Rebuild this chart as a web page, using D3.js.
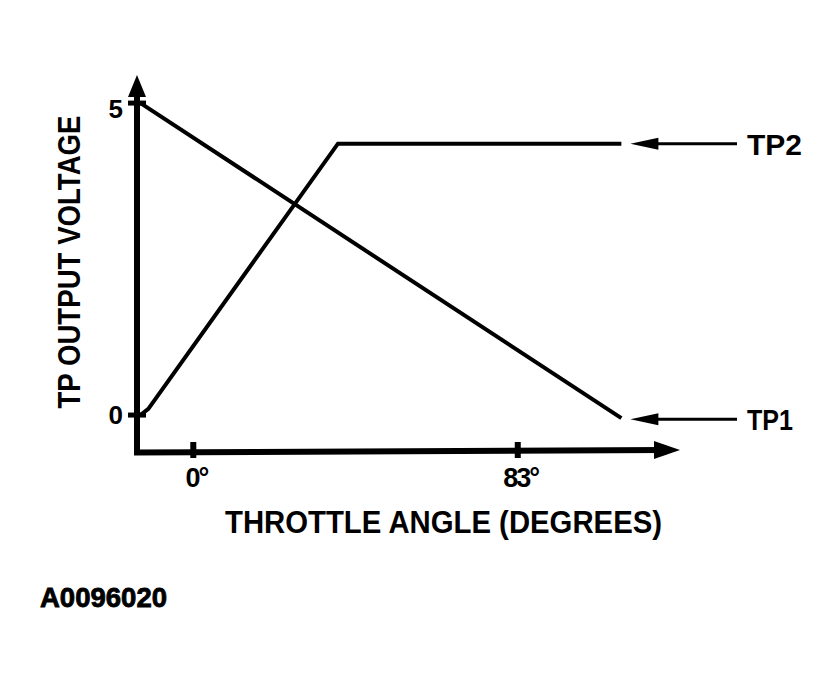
<!DOCTYPE html>
<html>
<head>
<meta charset="utf-8">
<script src="https://cdn.jsdelivr.net/npm/d3@7"></script>
<style>
  body { margin: 0; background: #fff; }
  text { font-family: "Liberation Sans", Arial, sans-serif; font-weight: bold; fill: #000; }
</style>
</head>
<body>
<div id="chart"></div>
<script>
// values
var tp1Angle = [-13.5, 109.5];
var tp1Volt = [5, -0.05];
var tp2Angle = [-13.5, -11.5, 37, 109.5];
var tp2Volt = [0, 0.1, 4.35, 4.35];
var yTicks = [0, 5];
var xTicks = [0, 83];
var xTickLabels = ["0°", "83°"];
var seriesNames = ["TP1", "TP2"];

var width = 837, height = 686;

var x = d3.scaleLinear().domain([-14.4, 124.5]).range([137, 680]);
var y = d3.scaleLinear().domain([-0.56, 5.45]).range([450, 75]);

var svg = d3.select("#chart").append("svg")
    .attr("width", width)
    .attr("height", height);

// axes
var x0 = x.range()[0], x1 = x.range()[1];
var y0 = y.range()[0], y1 = y.range()[1];
svg.append("path")
    .attr("d", "M" + x0 + "," + (y1 + 15) + "L" + x0 + "," + (y0 + 2.5) + "L" + (x1 - 15) + "," + y0)
    .attr("fill", "none")
    .attr("stroke", "#000")
    .attr("stroke-width", 6);
// axis arrowheads
svg.append("path")
    .attr("d", "M" + x0 + "," + y1 + "L" + (x0 + 9) + "," + (y1 + 22) + "L" + (x0 - 9) + "," + (y1 + 22) + "Z")
    .attr("fill", "#000");
svg.append("path")
    .attr("d", "M" + x1 + "," + y0 + "L" + (x1 - 26) + "," + (y0 - 9) + "L" + (x1 - 26) + "," + (y0 + 9) + "Z")
    .attr("fill", "#000");

// y ticks
svg.selectAll(".ytick").data(yTicks).enter().append("line")
    .attr("class", "ytick")
    .attr("x1", x0 - 9).attr("x2", x0 + 9)
    .attr("y1", function(d) { return y(d); })
    .attr("y2", function(d) { return y(d); })
    .attr("stroke", "#000").attr("stroke-width", 5);
svg.selectAll(".ylab").data(yTicks).enter().append("text")
    .attr("class", "ylab")
    .attr("x", 123)
    .attr("y", function(d) { return y(d) + (d == 5 ? 15 : 9); })
    .attr("text-anchor", "end")
    .attr("font-size", 26)
    .text(function(d) { return d; });

// x ticks
svg.selectAll(".xtick").data(xTicks).enter().append("line")
    .attr("class", "xtick")
    .attr("x1", function(d) { return x(d); })
    .attr("x2", function(d) { return x(d); })
    .attr("y1", y0 - 8).attr("y2", y0 + 8)
    .attr("stroke", "#000").attr("stroke-width", 6);
svg.selectAll(".xlab").data(xTicks).enter().append("text")
    .attr("class", "xlab")
    .attr("x", function(d) { return x(d) + 3; })
    .attr("y", 487)
    .attr("text-anchor", "middle")
    .attr("font-size", 27)
    .attr("letter-spacing", -2)
    .text(function(d, i) { return xTickLabels[i]; });

// series lines
var line = d3.line()
    .x(function(d) { return x(d[0]); })
    .y(function(d) { return y(d[1]); });
var series = [d3.zip(tp1Angle, tp1Volt), d3.zip(tp2Angle, tp2Volt)];
svg.selectAll(".series").data(series).enter().append("path")
    .attr("class", "series")
    .attr("d", line)
    .attr("fill", "none")
    .attr("stroke", "#000")
    .attr("stroke-width", 4);

// pointer arrows with names
series.forEach(function(s, i) {
    var last = s[s.length - 1];
    var tip = x(last[0]) + 9;
    var py = y(last[1]) + (i == 0 ? 1 : 0);
    svg.append("line")
        .attr("x1", tip + 20).attr("x2", 737)
        .attr("y1", py).attr("y2", py)
        .attr("stroke", "#000").attr("stroke-width", 3);
    svg.append("path")
        .attr("d", "M" + tip + "," + py + "L" + (tip + 28) + "," + (py - 6) + "L" + (tip + 28) + "," + (py + 6) + "Z")
        .attr("fill", "#000");
    svg.append("text")
        .attr("x", 747)
        .attr("y", py + 11)
        .attr("font-size", 30)
        .attr("font-weight", i == 0 ? "normal" : "bold")
        .attr("textLength", i == 0 ? 46 : 55)
        .attr("lengthAdjust", "spacingAndGlyphs")
        .text(seriesNames[i]);
});

// axis titles
svg.append("text")
    .attr("transform", "translate(80,262) rotate(-90)")
    .attr("text-anchor", "middle")
    .attr("font-size", 31)
    .attr("textLength", 293)
    .attr("lengthAdjust", "spacingAndGlyphs")
    .text("TP OUTPUT VOLTAGE");
svg.append("text")
    .attr("x", 225)
    .attr("y", 533)
    .attr("font-size", 31)
    .attr("textLength", 437)
    .attr("lengthAdjust", "spacingAndGlyphs")
    .text("THROTTLE ANGLE (DEGREES)");

svg.append("text")
    .attr("x", 40)
    .attr("y", 607)
    .attr("font-size", 27)
    .attr("font-weight", "normal")
    .attr("textLength", 127)
    .attr("lengthAdjust", "spacingAndGlyphs")
    .style("stroke", "#000").style("stroke-width", 0.8)
    .text("A0096020");
</script>
</body>
</html>
